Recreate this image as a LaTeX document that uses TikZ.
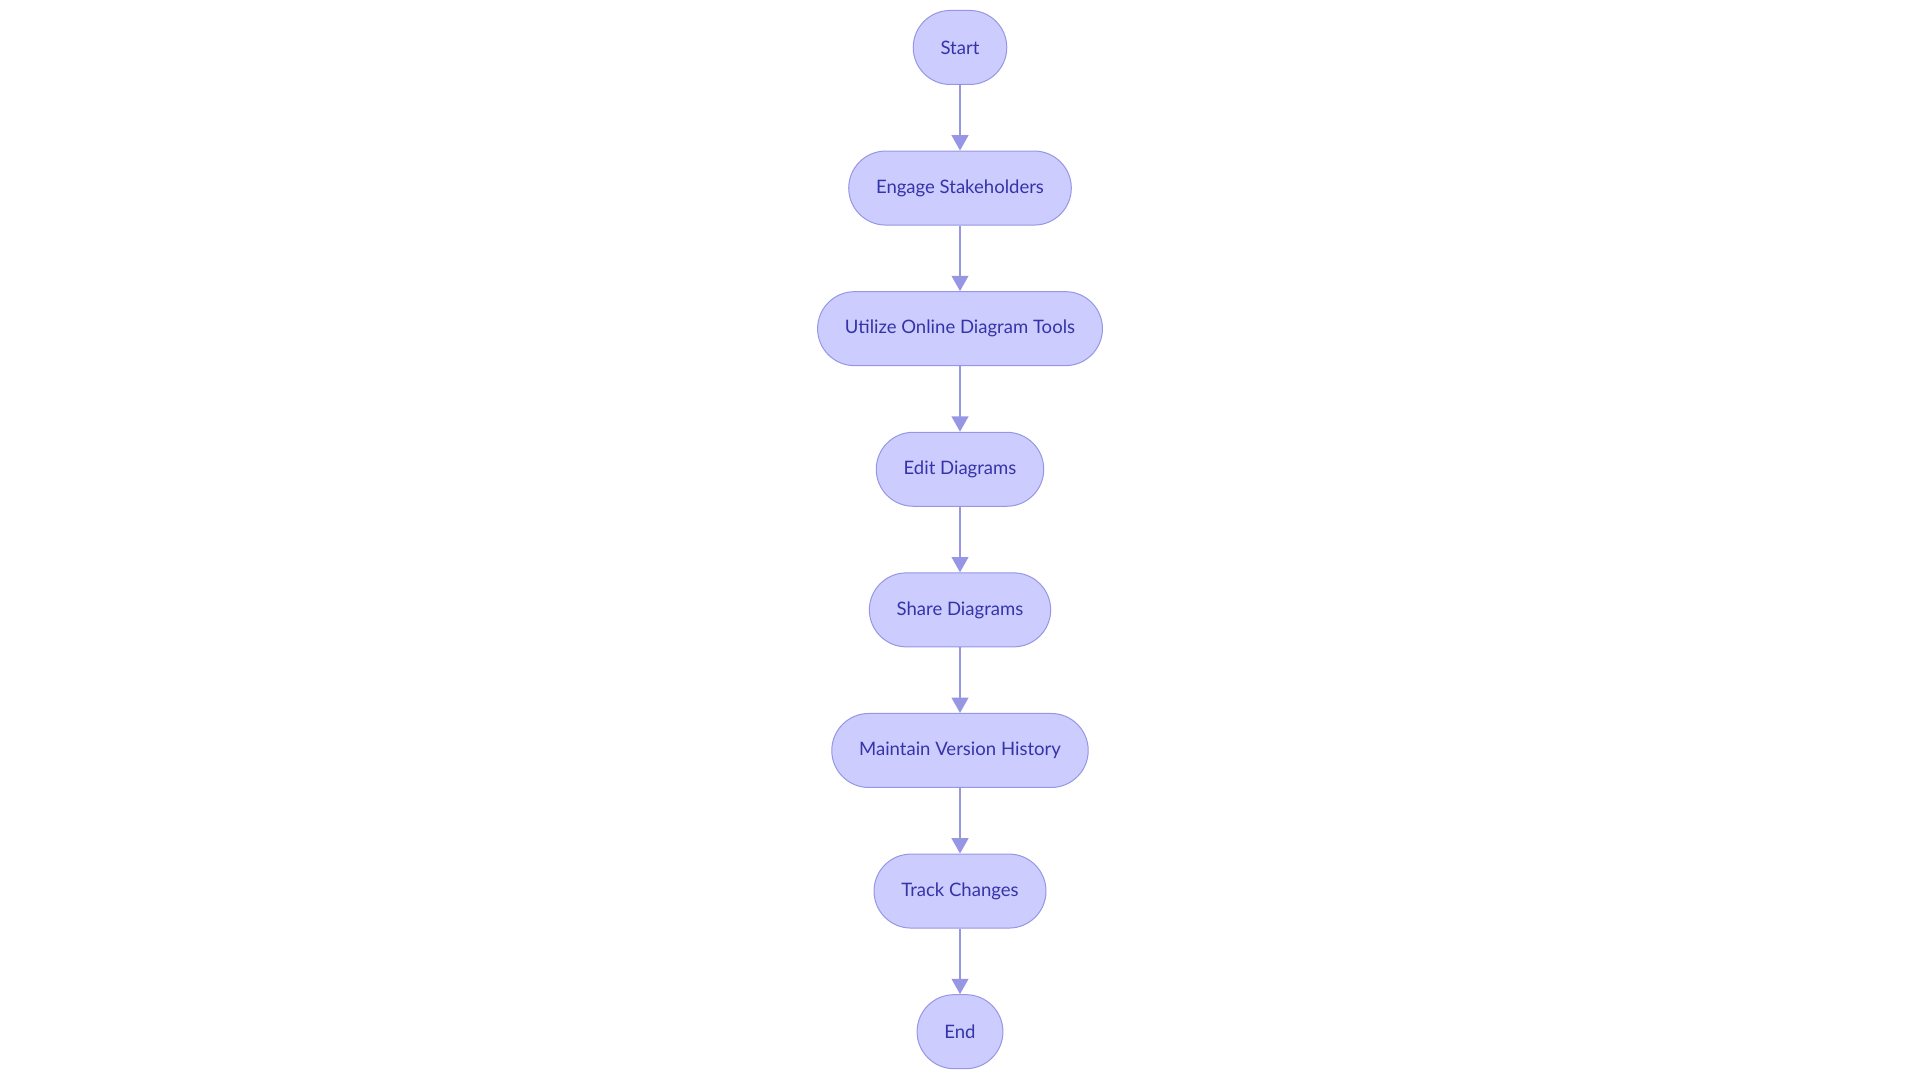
\documentclass[tikz,border=0pt]{standalone}
\usepackage{fontspec}
\setmainfont{Lato}
\usepackage{tikz}
\usetikzlibrary{arrows.meta,positioning}
\definecolor{boxfill}{RGB}{204,204,255}
\definecolor{boxline}{RGB}{150,150,228}
\definecolor{boxtext}{RGB}{52,52,168}
\tikzset{>=latex}
\tikzset{stadium/.style={draw=boxline,fill=boxfill,line width=0.75pt,rounded corners=27.75pt,
  minimum height=55.5pt,inner xsep=20.5pt,text=boxtext,font=\fontsize{13.9pt}{16pt}\selectfont},
  flow/.style={draw=boxline,line width=1.5pt,-{Triangle[length=11.5pt,width=12.5pt]}}}

\begin{document}
\begin{tikzpicture}[node distance=49.2pt]

\useasboundingbox (0,0) rectangle (1440pt,-810pt);

% Nodes
\node[stadium] (start) at (720pt,-35.6pt) {Start};
\node[stadium,below=of start] (engage) {Engage Stakeholders};
\node[stadium,below=of engage] (utilize) {Utilize Online Diagram Tools};
\node[stadium,below=of utilize] (edit) {Edit Diagrams};
\node[stadium,below=of edit] (share) {Share Diagrams};
\node[stadium,below=of share] (maintain) {Maintain Version History};
\node[stadium,below=of maintain] (track) {Track Changes};
\node[stadium,below=of track] (end) {End};

% Arrows
\draw[flow] (start) -- (engage);
\draw[flow] (engage) -- (utilize);
\draw[flow] (utilize) -- (edit);
\draw[flow] (edit) -- (share);
\draw[flow] (share) -- (maintain);
\draw[flow] (maintain) -- (track);
\draw[flow] (track) -- (end);

\end{tikzpicture}
\end{document}
